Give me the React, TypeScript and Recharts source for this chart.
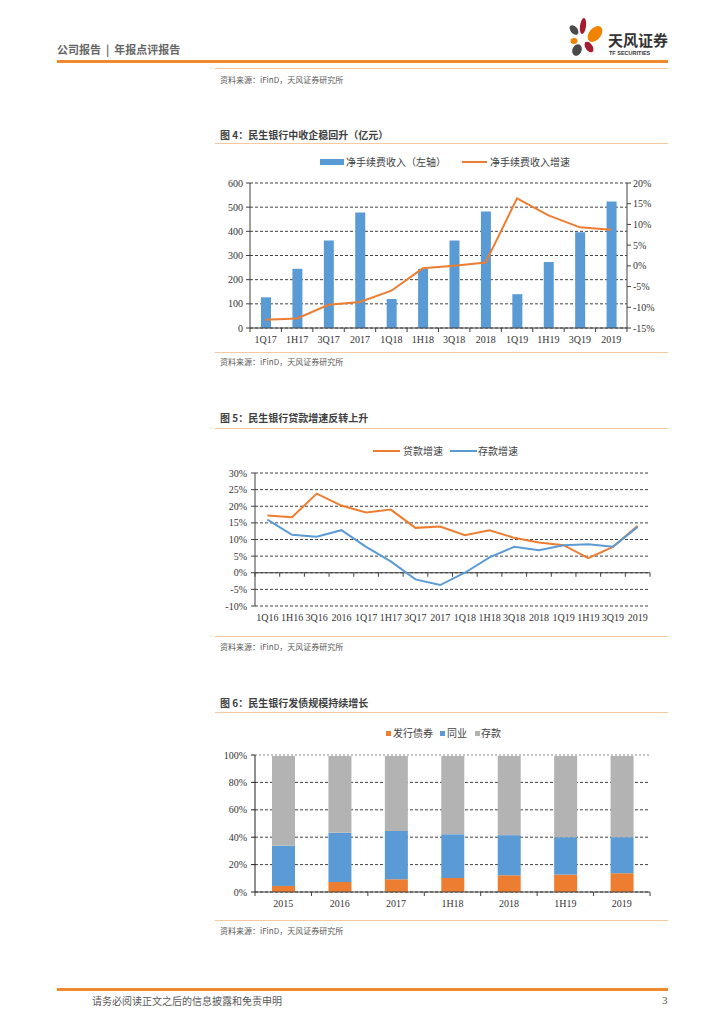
import React from 'react';
import {
  ComposedChart,
  LineChart,
  BarChart,
  Bar,
  Line,
  XAxis,
  YAxis,
  CartesianGrid,
  ReferenceLine,
} from 'recharts';

const CJK = '"Noto Sans CJK SC", "Noto Sans", sans-serif';
const SERIF = '"Liberation Serif", "DejaVu Serif", serif';
const ORANGE = '#ED7D31';
const BLUE = '#5B9BD5';
const GRAY = '#B3B3B3';
const AXIS = '#404040';
const HEAD_ORANGE = '#EF8B2C';
const LIGHT_ORANGE = '#F8C8A0';
const TEXT = '#404040';

// 图4 净手续费收入
const feeCats = ['1Q17', '1H17', '3Q17', '2017', '1Q18', '1H18', '3Q18', '2018', '1Q19', '1H19', '3Q19', '2019'];
const feeIncome = [127, 245, 362, 478, 120, 245, 362, 482, 140, 273, 396, 523];
const feeGrowth = [-13.0, -12.7, -9.4, -8.7, -6.0, -0.6, 0.0, 0.8, 16.3, 12.2, 9.3, 8.7];
const feeLeftTicks = [0, 100, 200, 300, 400, 500, 600];
const feeRightTicks = [-15, -10, -5, 0, 5, 10, 15, 20];

// 图5 贷款/存款增速
const growthCats = ['1Q16', '1H16', '3Q16', '2016', '1Q17', '1H17', '3Q17', '2017', '1Q18', '1H18', '3Q18', '2018', '1Q19', '1H19', '3Q19', '2019'];
const loanGrowth = [17.2, 16.7, 23.8, 20.2, 18.1, 19.0, 13.5, 13.9, 11.3, 12.8, 10.5, 9.1, 8.3, 4.4, 7.8, 14.1];
const depositGrowth = [16.0, 11.4, 10.8, 12.8, 7.8, 3.4, -2.0, -3.7, 0.0, 4.6, 7.8, 6.8, 8.3, 8.6, 7.8, 13.8];
const growthTicks = [-10, -5, 0, 5, 10, 15, 20, 25, 30];

// 图6 负债结构
const fundCats = ['2015', '2016', '2017', '1H18', '2018', '1H19', '2019'];
const bondShare = [4.4, 7.3, 9.3, 10.2, 12.2, 12.7, 13.7];
const interbankShare = [29.3, 35.9, 35.3, 32.0, 29.3, 27.3, 26.3];
const depositShare = [66.3, 56.8, 55.4, 57.8, 58.5, 60.0, 60.0];
const shareTicks = [0, 20, 40, 60, 80, 100];

const feeData = feeCats.map((c, i) => ({ cat: c, income: feeIncome[i], growth: feeGrowth[i] }));
const growthData = growthCats.map((c, i) => ({ cat: c, loan: loanGrowth[i], deposit: depositGrowth[i] }));
const fundData = fundCats.map((c, i) => ({
  cat: c,
  bond: bondShare[i],
  interbank: interbankShare[i],
  deposit: depositShare[i],
}));

const pct = (v: number) => `${v}%`;
const tickStyle = { fontFamily: SERIF, fontSize: 10, fill: '#333' };

// x轴刻度：刻度线放在分类边界上
const makeTick = (band: number, count: number, markOffset = 0) => (props: any) => {
  const { x, y, payload, index } = props;
  const half = band / 2;
  const my = y - markOffset;
  return (
    <g>
      <line x1={x - half} x2={x - half} y1={my} y2={my + 4} stroke={AXIS} />
      {index === count - 1 && <line x1={x + half} x2={x + half} y1={my} y2={my + 4} stroke={AXIS} />}
      <text x={x} y={y + 15} textAnchor="middle" {...tickStyle}>
        {payload.value}
      </text>
    </g>
  );
};

const Txt = ({ x, y, size, children, color = TEXT, bold = false, font = CJK }: any) => (
  <div
    style={{
      position: 'absolute',
      left: x,
      top: y - size * 0.6,
      fontSize: size,
      lineHeight: `${size * 1.2}px`,
      whiteSpace: 'pre',
      color,
      fontWeight: bold ? 700 : 400,
      fontFamily: font,
    }}
  >
    {children}
  </div>
);

const Rule = ({ x, y, w, h = 1, color = LIGHT_ORANGE }: any) => (
  <div style={{ position: 'absolute', left: x, top: y, width: w, height: h, background: color }} />
);

const Logo = () => (
  <svg style={{ position: 'absolute', left: 566, top: 17 }} width={40} height={40} viewBox="0 0 40 40">
    <ellipse cx={8} cy={13} rx={3.5} ry={5.5} fill="#4A4A4A" transform="rotate(-40 8 13)" />
    <ellipse cx={17} cy={9} rx={3} ry={8} fill="#A51C30" transform="rotate(8 17 9)" />
    <ellipse cx={29} cy={17} rx={6} ry={9} fill="#F08300" transform="rotate(40 29 17)" />
    <ellipse cx={8} cy={24} rx={3.5} ry={3} fill="#F08300" />
    <ellipse cx={23} cy={30} rx={3.5} ry={6} fill="#A51C30" transform="rotate(-35 23 30)" />
    <ellipse cx={11} cy={33} rx={4.5} ry={6} fill="#4A4A4A" transform="rotate(25 11 33)" />
  </svg>
);

const Source = ({ y }: { y: number }) => (
  <Txt x={220} y={y} size={8} color="#595959">
    资料来源：iFinD，天风证券研究所
  </Txt>
);

function FeeChart() {
  // plot: x 250..627, y 183..328
  const plotW = 377;
  return (
    <div style={{ position: 'absolute', left: 200, top: 173 }}>
      <ComposedChart width={460} height={180} data={feeData} margin={{ top: 10, right: 0, bottom: 0, left: 0 }}>
        <CartesianGrid yAxisId="l" vertical={false} stroke={AXIS} strokeDasharray="3 2" />
        <XAxis
          dataKey="cat"
          height={25}
          axisLine={{ stroke: AXIS }}
          tickLine={false}
          tickSize={0}
          tickMargin={0}
          interval={0}
          tick={makeTick(plotW / feeCats.length, feeCats.length)}
        />
        <YAxis
          yAxisId="l"
          width={50}
          domain={[0, 600]}
          ticks={feeLeftTicks}
          interval={0}
          axisLine={{ stroke: AXIS }}
          tickLine={{ stroke: AXIS }}
          tickSize={4}
          tickMargin={3}
          tick={tickStyle}
        />
        <YAxis
          yAxisId="r"
          orientation="right"
          width={33}
          domain={[-15, 20]}
          ticks={feeRightTicks}
          interval={0}
          tickFormatter={pct}
          axisLine={{ stroke: AXIS }}
          tickLine={{ stroke: AXIS }}
          tickSize={4}
          tickMargin={2}
          tick={tickStyle}
        />
        <Bar yAxisId="l" dataKey="income" fill={BLUE} barSize={10} isAnimationActive={false} />
        <Line
          yAxisId="r"
          dataKey="growth"
          stroke={ORANGE}
          strokeWidth={2}
          dot={false}
          type="linear"
          isAnimationActive={false}
        />
      </ComposedChart>
    </div>
  );
}

function GrowthChart() {
  // plot: x 255..650, y 473..606
  const plotW = 395;
  const plotH = 133;
  const band = plotW / growthCats.length;
  return (
    <div style={{ position: 'absolute', left: 200, top: 463 }}>
      <LineChart width={460} height={170} data={growthData} margin={{ top: 10, right: 10, bottom: 0, left: 0 }}>
        <CartesianGrid vertical={false} stroke={AXIS} strokeDasharray="3 2" />
        <ReferenceLine y={0} stroke={AXIS} strokeWidth={1} />
        <XAxis
          dataKey="cat"
          height={27}
          padding={{ left: band / 2, right: band / 2 }}
          axisLine={false}
          tickLine={false}
          tickSize={0}
          tickMargin={0}
          interval={0}
          tick={makeTick(band, growthCats.length, (plotH * 10) / 40)}
        />
        <YAxis
          width={55}
          domain={[-10, 30]}
          ticks={growthTicks}
          interval={0}
          tickFormatter={pct}
          axisLine={{ stroke: AXIS }}
          tickLine={{ stroke: AXIS }}
          tickSize={4}
          tickMargin={4}
          tick={tickStyle}
        />
        <Line dataKey="loan" stroke={ORANGE} strokeWidth={2} dot={false} type="linear" isAnimationActive={false} />
        <Line dataKey="deposit" stroke={BLUE} strokeWidth={2} dot={false} type="linear" isAnimationActive={false} />
      </LineChart>
    </div>
  );
}

function FundChart() {
  // plot: x 255..650, y 755..892
  const plotW = 395;
  return (
    <div style={{ position: 'absolute', left: 200, top: 745 }}>
      <BarChart width={460} height={175} data={fundData} margin={{ top: 10, right: 10, bottom: 0, left: 0 }}>
        <CartesianGrid vertical={false} stroke={AXIS} strokeDasharray="3 2" />
        <ReferenceLine y={100} stroke="#fff" strokeWidth={2} />
        <ReferenceLine y={100} stroke={GRAY} strokeWidth={1.5} strokeDasharray="2 2" />
        <XAxis
          dataKey="cat"
          height={28}
          axisLine={{ stroke: AXIS }}
          tickLine={false}
          tickSize={0}
          tickMargin={0}
          interval={0}
          tick={makeTick(plotW / fundCats.length, fundCats.length)}
        />
        <YAxis
          width={55}
          domain={[0, 100]}
          ticks={shareTicks}
          interval={0}
          tickFormatter={pct}
          axisLine={{ stroke: '#222' }}
          tickLine={{ stroke: '#222' }}
          tickSize={4}
          tickMargin={4}
          tick={tickStyle}
        />
        <Bar dataKey="bond" stackId="s" fill={ORANGE} barSize={23} isAnimationActive={false} />
        <Bar dataKey="interbank" stackId="s" fill={BLUE} barSize={23} isAnimationActive={false} />
        <Bar dataKey="deposit" stackId="s" fill={GRAY} barSize={23} isAnimationActive={false} />
      </BarChart>
    </div>
  );
}

export default function App() {
  return (
    <div
      style={{
        position: 'absolute',
        left: 0,
        top: 0,
        width: 724,
        height: 1024,
        background: '#fff',
        overflow: 'hidden',
        fontFamily: CJK,
      }}
    >
      {/* 页眉 */}
      <Txt x={57} y={50} size={11} color="#666" bold>
        {'公司报告  |  年报点评报告'}
      </Txt>
      <Logo />
      <Txt x={608} y={40} size={15} color="#333" bold>
        天风证券
      </Txt>
      <Txt x={609} y={53} size={5.5} color="#333" bold font='"Liberation Sans", sans-serif'>
        TF SECURITIES
      </Txt>
      <Rule x={57} y={60} w={611} h={3} color={HEAD_ORANGE} />
      <Rule x={215} y={68} w={453} />
      <Source y={80} />

      {/* 图4 */}
      <Txt x={220} y={135} size={10} bold>
        图 4：民生银行中收企稳回升（亿元）
      </Txt>
      <Rule x={215} y={143} w={453} />
      <div style={{ position: 'absolute', left: 320, top: 159, width: 24, height: 6, background: BLUE }} />
      <Txt x={346} y={162} size={10}>
        净手续费收入（左轴）
      </Txt>
      <div style={{ position: 'absolute', left: 462, top: 161, width: 25, height: 2, background: ORANGE }} />
      <Txt x={490} y={162} size={10}>
        净手续费收入增速
      </Txt>
      <FeeChart />
      <Rule x={215} y={352} w={453} />
      <Source y={362} />

      {/* 图5 */}
      <Txt x={220} y={418} size={10} bold>
        图 5：民生银行贷款增速反转上升
      </Txt>
      <Rule x={215} y={428} w={453} />
      <div style={{ position: 'absolute', left: 373, top: 450, width: 27, height: 2, background: ORANGE }} />
      <Txt x={403} y={451} size={10}>
        贷款增速
      </Txt>
      <div style={{ position: 'absolute', left: 450, top: 450, width: 27, height: 2, background: BLUE }} />
      <Txt x={478} y={451} size={10}>
        存款增速
      </Txt>
      <GrowthChart />
      <Rule x={215} y={636} w={453} />
      <Source y={647} />

      {/* 图6 */}
      <Txt x={220} y={703} size={10} bold>
        图 6：民生银行发债规模持续增长
      </Txt>
      <Rule x={215} y={712} w={453} />
      <div style={{ position: 'absolute', left: 386, top: 731, width: 5, height: 5, background: ORANGE }} />
      <Txt x={393} y={733} size={10}>
        发行债券
      </Txt>
      <div style={{ position: 'absolute', left: 440, top: 731, width: 5, height: 5, background: BLUE }} />
      <Txt x={447} y={733} size={10}>
        同业
      </Txt>
      <div style={{ position: 'absolute', left: 475, top: 731, width: 5, height: 5, background: GRAY }} />
      <Txt x={481} y={733} size={10}>
        存款
      </Txt>
      <FundChart />
      <Rule x={215} y={920} w={453} />
      <Source y={931} />

      {/* 页脚 */}
      <Rule x={57} y={988} w={611} h={3} color={HEAD_ORANGE} />
      <Txt x={92} y={1001} size={10} color="#595959">
        请务必阅读正文之后的信息披露和免责申明
      </Txt>
      <Txt x={662} y={1001} size={11} color="#595959" font={SERIF}>
        3
      </Txt>
    </div>
  );
}
